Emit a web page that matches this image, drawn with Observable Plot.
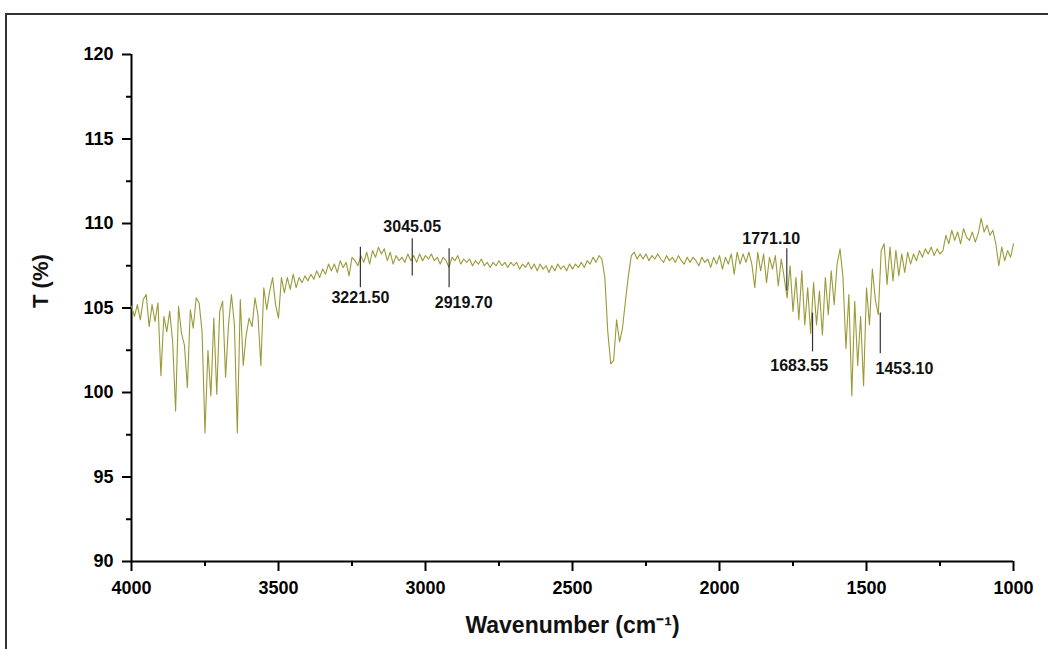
<!DOCTYPE html>
<html>
<head>
<meta charset="utf-8">
<script src="https://cdn.jsdelivr.net/npm/d3@7"></script>
<script src="https://cdn.jsdelivr.net/npm/@observablehq/plot@0.6"></script>
<style>
  html, body { margin: 0; padding: 0; background: #fff; }
  #wrap { position: relative; width: 1048px; height: 649px; overflow: hidden; }
  #frame { position: absolute; left: 5px; top: 13px; width: 1100px; height: 700px;
           border-top: 2px solid #333; border-left: 2px solid #333; box-sizing: border-box; }
  #chart { position: absolute; left: 0; top: 0; }
</style>
</head>
<body>
<div id="wrap"><div id="frame"></div><div id="chart"></div></div>
<script>
// FT-IR spectrum, sampled every 10 cm-1 from 4000 down to 1000 cm-1
const startWavenumber = 4000;
const stepWavenumber = 10;
const transmittance = [
  105.1,104.5,105.2,104.3,105.5,105.8,103.9,105.2,104.2,105.3, // 4000-3910
  101.0,104.5,103.6,104.8,103.0,98.9,105.1,103.5,102.8,100.3,  // 3900-3810
  104.9,103.8,105.6,105.3,103.6,97.6,102.5,99.8,104.4,99.9,    // 3800-3710
  104.8,105.4,100.9,104.0,105.8,104.0,97.6,105.5,101.6,103.4,  // 3700-3610
  104.4,103.9,105.6,104.6,101.6,106.2,104.9,106.0,106.8,105.2, // 3600-3510
  104.4,106.8,105.9,106.8,106.1,107.0,106.2,106.8,106.5,106.9, // 3500-3410
  106.6,107.0,106.7,107.2,106.8,107.3,107.0,107.6,107.2,107.6, // 3400-3310
  107.1,107.8,107.4,107.7,106.9,108.0,107.8,107.5,108.1,107.7, // 3300-3210
  108.3,107.6,108.4,108.0,108.6,108.2,108.5,107.8,108.3,107.6, // 3200-3110
  108.1,107.8,108.0,107.7,108.2,107.8,108.1,107.7,108.2,107.8, // 3100-3010
  108.1,107.9,108.2,107.8,108.0,107.6,108.0,107.8,107.4,108.0, // 3000-2910
  107.8,108.1,107.6,107.9,107.7,107.9,107.5,107.8,107.6,107.9, // 2900-2810
  107.5,107.7,107.4,107.7,107.5,107.8,107.5,107.7,107.4,107.7, // 2800-2710
  107.5,107.7,107.3,107.6,107.4,107.7,107.3,107.6,107.2,107.6, // 2700-2610
  107.3,107.5,107.1,107.5,107.2,107.6,107.3,107.5,107.2,107.6, // 2600-2510
  107.3,107.6,107.4,107.7,107.4,107.8,107.6,108.0,107.7,108.1, // 2500-2410
  107.9,106.8,103.6,101.7,101.9,104.3,103.0,103.8,105.4,106.9, // 2400-2310
  108.1,108.3,107.9,108.2,107.9,108.2,107.8,108.1,107.9,108.2, // 2300-2210
  107.9,107.7,108.1,107.8,108.0,107.7,108.1,107.8,107.6,108.0, // 2200-2110
  107.7,108.0,107.8,107.5,108.0,107.7,107.9,107.4,108.0,107.6, // 2100-2010
  108.1,107.3,108.0,107.6,108.2,107.0,108.3,107.6,108.2,107.7, // 2000-1910
  108.3,107.6,106.2,108.3,107.2,108.2,106.5,108.0,107.3,108.1, // 1900-1810
  106.3,107.9,106.8,105.6,107.5,104.8,106.8,104.3,107.2,104.0, // 1800-1710
  106.2,103.5,106.5,104.0,106.0,103.4,106.8,104.6,107.2,105.2, // 1700-1610
  107.6,108.5,106.8,102.6,105.8,99.8,105.4,101.6,104.5,100.4,  // 1600-1510
  106.2,104.0,107.3,105.5,104.6,108.4,108.8,106.4,108.6,106.6, // 1500-1410
  108.4,106.9,108.2,107.1,108.3,107.6,108.2,107.8,108.4,108.0, // 1400-1310
  108.5,108.2,108.6,108.1,108.5,108.2,108.4,109.3,108.8,109.6, // 1300-1210
  109.0,109.5,108.8,109.7,109.2,109.0,109.5,108.9,109.4,110.3, // 1200-1110
  109.5,109.9,109.3,109.6,108.8,107.5,108.6,107.8,108.4,108.0, // 1100-1010
  108.8                                                         // 1000
];

// Peak annotations
const peakLabels      = ["3221.50", "3045.05", "2919.70", "1771.10", "1683.55", "1453.10"];
const peakWavenumbers = [3221.50, 3045.05, 2919.70, 1771.10, 1683.55, 1453.10];
const markerTop       = [108.6, 109.1, 108.5, 108.5, 104.7, 104.7];
const markerBottom    = [106.2, 106.9, 106.2, 106.0, 102.4, 102.3];
const labelWavenumber = [3221.5, 3045.05, 2870, 1824, 1729, 1371];
const labelT          = [105.6, 109.8, 105.3, 109.1, 101.6, 101.4];

// Axis ticks
const xTicks = [4000, 3500, 3000, 2500, 2000, 1500, 1000];
const xMinorTicks = [3750, 3250, 2750, 2250, 1750, 1250];
const yTicks = [90, 95, 100, 105, 110, 115, 120];
const yMinorTicks = [92.5, 97.5, 102.5, 107.5, 112.5, 117.5];

const xTitle = "Wavenumber (cm⁻¹)";
const yTitle = "T (%)";

const spectrum = transmittance.map((t, i) => ({w: startWavenumber - i * stepWavenumber, t}));
const peaks = peakLabels.map((label, i) => ({
  label, w: peakWavenumbers[i], top: markerTop[i], bottom: markerBottom[i],
  lx: labelWavenumber[i], ly: labelT[i]
}));

const chart = Plot.plot({
  width: 1048,
  height: 649,
  marginLeft: 131,
  marginRight: 35,
  marginTop: 54,
  marginBottom: 88,
  style: {
    fontFamily: "'Liberation Sans', Arial, sans-serif",
    fontWeight: "bold",
    color: "#000",
    background: "transparent",
    overflow: "visible"
  },
  x: {domain: [4000, 1000], label: null},
  y: {domain: [90, 120], label: null},
  marks: [
    Plot.axisX({ticks: xMinorTicks, tickSize: 5, tickFormat: () => "", strokeWidth: 2, label: null}),
    Plot.axisX({ticks: xTicks, tickSize: 10, tickPadding: 10, tickFormat: d => String(d),
                fontSize: 18, strokeWidth: 2, label: null}),
    Plot.axisY({ticks: yMinorTicks, tickSize: 5, tickFormat: () => "", strokeWidth: 2, label: null}),
    Plot.axisY({ticks: yTicks, tickSize: 9, tickPadding: 9, tickFormat: d => String(d),
                fontSize: 18, strokeWidth: 2, label: null}),
    Plot.ruleY([90], {strokeWidth: 2}),
    Plot.ruleX([4000], {strokeWidth: 2}),
    Plot.line(spectrum, {x: "w", y: "t", stroke: "#9a9a38", strokeWidth: 1.1}),
    Plot.ruleX(peaks, {x: "w", y1: "top", y2: "bottom", stroke: "#333", strokeWidth: 1.2}),
    Plot.text(peaks, {x: "lx", y: "ly", text: "label", fontSize: 16, fontWeight: "bold", fill: "#111"}),
    Plot.text([xTitle], {frameAnchor: "bottom", dy: 71, fontSize: 23, fontWeight: "bold", fill: "#111"}),
    Plot.text([yTitle], {frameAnchor: "left", dx: -91, rotate: -90, fontSize: 22, fontWeight: "bold", fill: "#111"})
  ]
});
document.getElementById("chart").appendChild(chart);
</script>
</body>
</html>
